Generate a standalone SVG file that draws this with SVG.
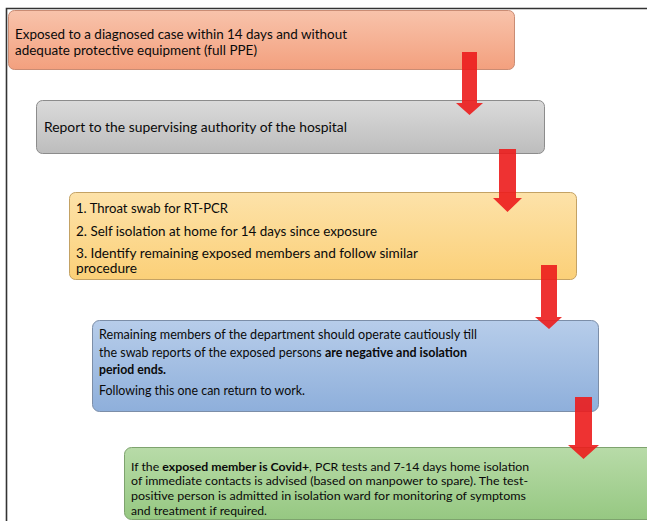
<svg xmlns="http://www.w3.org/2000/svg" width="647" height="521" viewBox="0 0 647 521">
<defs>
<linearGradient id="g1" x1="0" y1="0" x2="0" y2="1"><stop offset="0" stop-color="#f8c3ab"/><stop offset="1" stop-color="#f3a07e"/></linearGradient>
<linearGradient id="g2" x1="0" y1="0" x2="0" y2="1"><stop offset="0" stop-color="#dadada"/><stop offset="1" stop-color="#bdbdbd"/></linearGradient>
<linearGradient id="g3" x1="0" y1="0" x2="0" y2="1"><stop offset="0" stop-color="#fde2a9"/><stop offset="1" stop-color="#fbd078"/></linearGradient>
<linearGradient id="g4" x1="0" y1="0" x2="0" y2="1"><stop offset="0" stop-color="#b7cdea"/><stop offset="1" stop-color="#8eafdb"/></linearGradient>
<linearGradient id="g5" x1="0" y1="0" x2="0" y2="1"><stop offset="0" stop-color="#b8dba8"/><stop offset="1" stop-color="#96c882"/></linearGradient>
</defs>
<style>
.box{stroke-width:1}
.t{font-family:Lato,"Liberation Sans",sans-serif;font-size:13.5px;fill:#0a0a0a}
.m{font-size:13px}
.s{font-size:12.2px}
.b{font-weight:bold}
.arr{fill:#ec1c1c;fill-opacity:0.9}
</style>
<rect width="647" height="521" fill="#ffffff"/>
<path d="M6.5,521 V8.5 H647" fill="none" stroke="#333" stroke-width="1.6"/>

<g id="node1">
<rect class="box" x="8.5" y="10.5" width="506" height="59" rx="6" fill="url(#g1)" stroke="#c98c74"/>
<text class="t" x="15" y="38.5" textLength="332" lengthAdjust="spacingAndGlyphs">Exposed to a diagnosed case within 14 days and without</text>
<text class="t" x="15" y="55" textLength="242" lengthAdjust="spacingAndGlyphs">adequate protective equipment (full PPE)</text>
</g>

<g id="node2">
<rect class="box" x="36.5" y="100.5" width="508" height="53" rx="6" fill="url(#g2)" stroke="#8c8c8c"/>
<text class="t" x="44" y="132" textLength="303" lengthAdjust="spacingAndGlyphs">Report to the supervising authority of the hospital</text>
</g>

<g id="node3">
<rect class="box" x="69.5" y="192.5" width="507" height="87" rx="6" fill="url(#g3)" stroke="#c4a264"/>
<text class="t" x="76" y="213" textLength="152" lengthAdjust="spacingAndGlyphs">1. Throat swab for RT-PCR</text>
<text class="t" x="76" y="235.5" textLength="301" lengthAdjust="spacingAndGlyphs">2. Self isolation at home for 14 days since exposure</text>
<text class="t" x="76" y="257.5" textLength="342" lengthAdjust="spacingAndGlyphs">3. Identify remaining exposed members and follow similar</text>
<text class="t" x="76" y="273" textLength="61" lengthAdjust="spacingAndGlyphs">procedure</text>
</g>

<g id="node4">
<rect class="box" x="92.5" y="320.5" width="506" height="91" rx="7" fill="url(#g4)" stroke="#7c8ea8"/>
<text class="t m" x="99" y="338.5" textLength="378" lengthAdjust="spacingAndGlyphs">Remaining members of the department should operate cautiously till</text>
<text class="t m" x="99" y="356.5" textLength="368" lengthAdjust="spacingAndGlyphs">the swab reports of the exposed persons <tspan class="b">are negative and isolation</tspan></text>
<text class="t m b" x="99" y="374" textLength="67" lengthAdjust="spacingAndGlyphs">period ends.</text>
<text class="t m" x="99" y="395" textLength="206" lengthAdjust="spacingAndGlyphs">Following this one can return to work.</text>
</g>

<g id="node5">
<rect class="box" x="124.5" y="447.5" width="530" height="72" rx="7" fill="url(#g5)" stroke="#7ea36e"/>
<text class="t s" x="131" y="470.5" textLength="398" lengthAdjust="spacingAndGlyphs">If the <tspan class="b">exposed member is Covid+</tspan>, PCR tests and 7-14 days home isolation</text>
<text class="t s" x="131" y="485.2" textLength="397" lengthAdjust="spacingAndGlyphs">of immediate contacts is advised (based on manpower to spare). The test-</text>
<text class="t s" x="131" y="499.9" textLength="395" lengthAdjust="spacingAndGlyphs">positive person is admitted in isolation ward for monitoring of symptoms</text>
<text class="t s" x="131" y="514.6" textLength="136" lengthAdjust="spacingAndGlyphs">and treatment if required.</text>
</g>

<g id="connectors">
<polygon class="arr" points="462,52 477,52 477,103 483,103 469.5,115 456,103 462,103"/>
<polygon class="arr" points="499,149 516,149 516,198 522,198 507.5,212 493,198 499,198"/>
<polygon class="arr" points="541,265 557,265 557,317 562,317 549,329 535,317 541,317"/>
<polygon class="arr" points="575,397 592,397 592,445 599,445 583.5,459 568,445 575,445"/>
</g>
</svg>
